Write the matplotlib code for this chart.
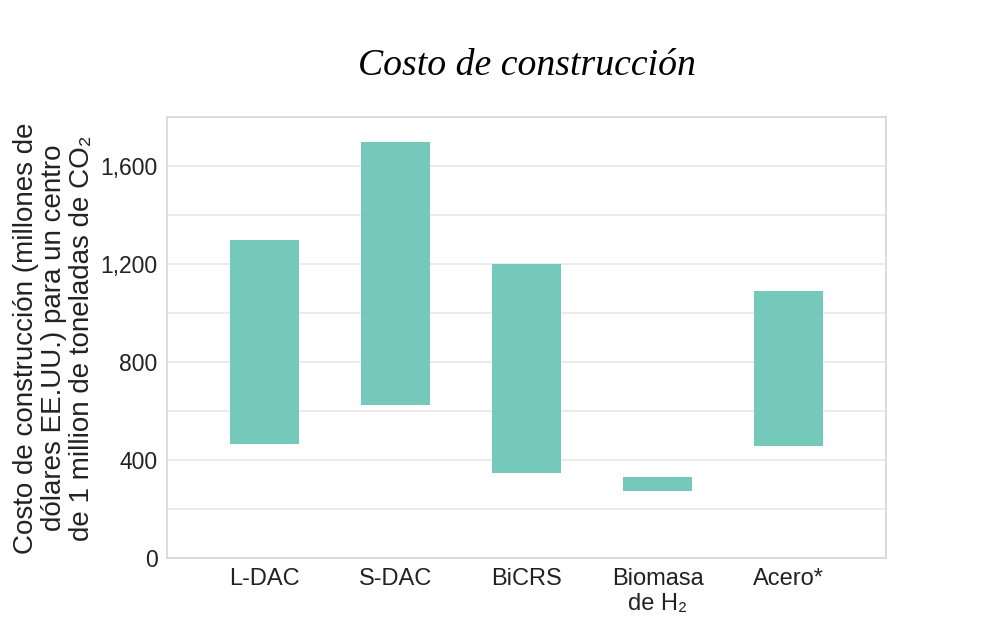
import matplotlib.pyplot as plt
import numpy as np

# data (US$ millions, low / high)
categories = ["L-DAC", "S-DAC", "BiCRS", "Biomasa\nde H\u2082", "Acero*"]
low = [468, 625, 348, 276, 458]
high = [1300, 1700, 1200, 331, 1092]

bar_color = "#74c9bb"
grid_color = "#e8e8e8"
spine_color = "#d6d6d6"

plt.rcParams['font.family'] = ['Liberation Sans', 'DejaVu Sans']

fig = plt.figure(figsize=(10, 6.17), dpi=100)
ax = fig.add_axes([0.1673, 0.0951, 0.7184, 0.7148])

x = np.arange(len(categories))
heights = np.array(high) - np.array(low)
ax.bar(x, heights, bottom=low, width=0.525, color=bar_color, zorder=3)

ax.set_xlim(-0.743, 4.74)
ax.set_ylim(0, 1800)
ax.set_yticks([0, 400, 800, 1200, 1600])
ax.set_yticks(np.arange(200, 1801, 400), minor=True)
ax.set_yticklabels([f"{v:,}" for v in [0, 400, 800, 1200, 1600]])
ax.grid(axis='y', which='both', color=grid_color, linewidth=1.2, zorder=0)
ax.tick_params(axis='both', which='both', length=0, labelcolor='#222222')
ax.tick_params(axis='y', labelsize=16.5, pad=7)
ax.tick_params(axis='x', labelsize=17, pad=7)
ax.set_xticks(x)
ax.set_xticklabels(categories, linespacing=1.15)
for s in ax.spines.values():
    s.set_color(spine_color)
    s.set_linewidth(1.2)

ax.set_ylabel("Costo de construcción (millones de\n"
              "dólares EE.UU.) para un centro\n"
              "de 1 million de toneladas de CO\u2082",
              fontsize=20, color='#222222', linespacing=1.1)
ax.yaxis.set_label_coords(-0.101, 0.5)

fig.text(0.527, 0.893, "Costo de construcción", ha='center', va='center',
         fontsize=27.2, style='italic',
         family=['Liberation Serif', 'DejaVu Serif'])

fig.savefig("out.png", dpi=100)
